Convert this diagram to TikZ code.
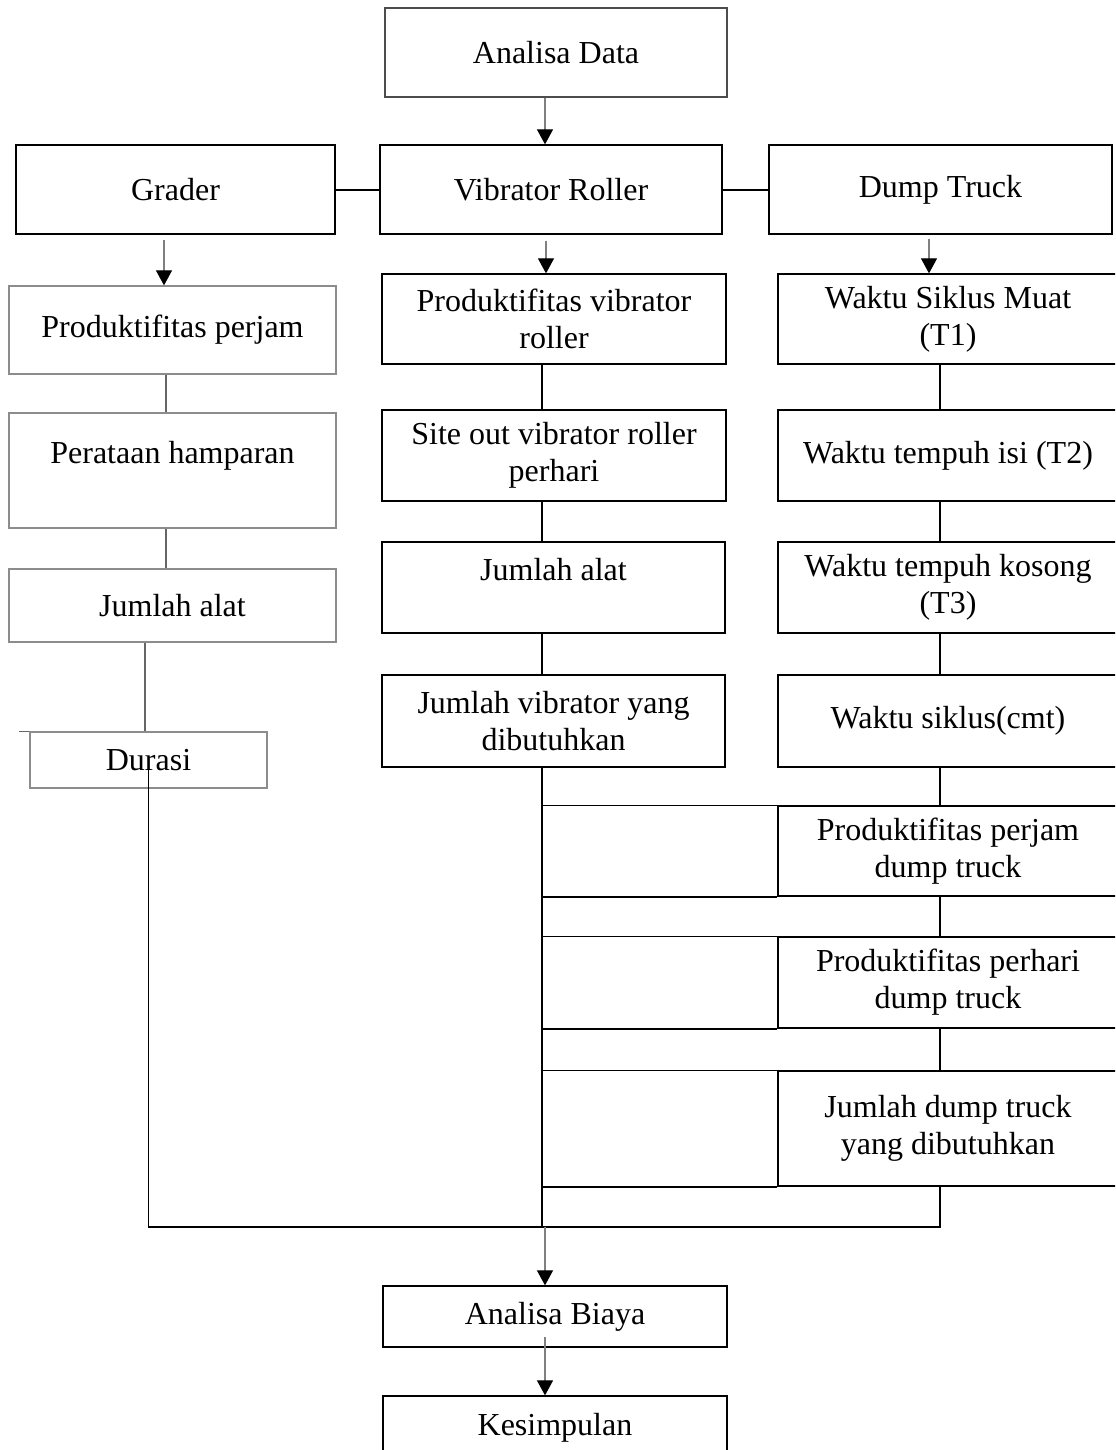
\documentclass[tikz,border=0pt]{standalone}
\usepackage{fontspec}
\setmainfont{Liberation Serif}
\usetikzlibrary{arrows.meta}

\begin{document}
\begin{tikzpicture}[x=0.5pt,y=-0.5pt,
    kotak/.style={shape=rectangle,draw=black,line width=0.65pt,align=center,inner sep=0pt,
                  font=\fontsize{16}{18.5}\selectfont},
    kotakabu/.style={kotak,draw=black!45},
    panah/.style={draw=black!50,line width=0.6pt,-{Triangle[width=8pt,length=7.5pt,color=black]}},
    garis/.style={draw=black,line width=0.85pt},
    garisabu/.style={draw=black!60,line width=0.6pt}]
    \useasboundingbox (0,0) rectangle (1115,1450);
    \clip (0,0) rectangle (1115,1450);

    \node[kotak,draw=black!70,minimum width=171pt,minimum height=44.5pt] (AD) at (556,52.5) {Analisa Data};
    \node[kotak,minimum width=159.5pt,minimum height=44.5pt] (GR) at (175.5,189.5) {Grader};
    \node[kotak,minimum width=171pt,minimum height=44.5pt] (VR) at (551,189.5) {Vibrator Roller};
    \node[kotak,minimum width=171.5pt,minimum height=44.5pt] (DT) at (940.5,189.5) {Dump Truck};

    \node[kotakabu,minimum width=163.5pt,minimum height=44pt] (PP) at (172.5,330) {Produktifitas perjam};
    \node[kotakabu,minimum width=163.5pt,minimum height=57.5pt] (PH) at (172.5,470.5) {Perataan hamparan\\\mbox{}};
    \node[kotakabu,minimum width=163.5pt,minimum height=36.5pt] (JA) at (172.5,605.5) {Jumlah alat};
    \node[kotakabu,minimum width=118.5pt,minimum height=28pt] (DU) at (148.5,760) {Durasi};

    \node[kotak,minimum width=172pt,minimum height=45pt] (PV) at (554,319) {Produktifitas vibrator\\roller};
    \node[kotak,minimum width=172pt,minimum height=45.5pt] (SO) at (554,455.5) {Site out vibrator roller\\perhari};
    \node[kotak,minimum width=171.5pt,minimum height=45.5pt] (JB) at (553.5,587.5) {Jumlah alat\\\mbox{}};
    \node[kotak,minimum width=171.5pt,minimum height=46pt] (JV) at (553.5,721) {Jumlah vibrator yang\\dibutuhkan};

    \node[kotak,minimum width=170pt,minimum height=45pt] (WSM) at (948,319) {Waktu Siklus Muat\\(T1)};
    \node[kotak,minimum width=170pt,minimum height=45.5pt] (WTI) at (948,455.5) {Waktu tempuh isi (T2)};
    \node[kotak,minimum width=170pt,minimum height=45.5pt] (WTK) at (948,587.5) {Waktu tempuh kosong\\(T3)};
    \node[kotak,minimum width=170pt,minimum height=46pt] (WSC) at (948,721) {Waktu siklus(cmt)};
    \node[kotak,minimum width=170pt,minimum height=45pt] (PJD) at (948,851) {Produktifitas perjam\\dump truck};
    \node[kotak,minimum width=170pt,minimum height=45.5pt] (PHD) at (948,982.5) {Produktifitas perhari\\dump truck};
    \node[kotak,minimum width=170pt,minimum height=57.5pt] (JDT) at (948,1128.5) {Jumlah dump truck\\yang dibutuhkan};

    \node[kotak,minimum width=172pt,minimum height=30.5pt] (AB) at (555,1316.5) {Analisa Biaya};
    \node[kotak,minimum width=172pt,minimum height=32pt] (KS) at (555,1428) {Kesimpulan};

    \coordinate (xa) at (545,0);
    \coordinate (xg) at (164,0);
    \coordinate (xv) at (546,0);
    \coordinate (xd) at (929,0);
    \coordinate (gx) at (166,0);
    \coordinate (jx) at (145,0);
    \coordinate (vx) at (542,0);
    \coordinate (dx) at (940,0);
    \coordinate (bawah) at (0,1227);

    \draw[panah] (AD.south -| xa) -- (VR.north -| xa);
    \draw[garis,line width=1pt] (GR) -- (VR);
    \draw[garis,line width=1pt] (VR) -- (DT);

    \draw[panah] ([yshift=-2.5pt]GR.south -| xg) -- (PP.north -| xg);
    \draw[panah] ([yshift=-3pt]VR.south -| xv) -- (PV.north -| xv);
    \draw[panah] ([yshift=-2pt]DT.south -| xd) -- (WSM.north -| xd);

    \draw[garisabu] (PP.south -| gx) -- (PH.north -| gx);
    \draw[garisabu] (PH.south -| gx) -- (JA.north -| gx);
    \draw[garisabu] (JA.south -| jx) -- (DU.north -| jx);
    \draw[garisabu] (DU.north west) -- ++(-10,0);

    \draw[garis] (PV.south -| vx) -- (SO.north -| vx);
    \draw[garis] (SO.south -| vx) -- (JB.north -| vx);
    \draw[garis] (JB.south -| vx) -- (JV.north -| vx);
    \draw[garis] (JV.south -| vx) -- (bawah -| vx);

    \draw[garis] (WSM.south -| dx) -- (WTI.north -| dx);
    \draw[garis] (WTI.south -| dx) -- (WTK.north -| dx);
    \draw[garis] (WTK.south -| dx) -- (WSC.north -| dx);
    \draw[garis] (WSC.south -| dx) -- (PJD.north -| dx);
    \draw[garis] (PJD.south -| dx) -- (PHD.north -| dx);
    \draw[garis] (PHD.south -| dx) -- (JDT.north -| dx);

    \draw[garis] (PJD.north west -| vx) -- (PJD.north west);
    \draw[garis] (PJD.south west -| vx) -- (PJD.south west);
    \draw[garis] (PHD.north west -| vx) -- (PHD.north west);
    \draw[garis] (PHD.south west -| vx) -- (PHD.south west);
    \draw[garis] (JDT.north west -| vx) -- (JDT.north west);
    \draw[garis] (JDT.south west -| vx) -- (JDT.south west);

    \draw[garis] ([yshift=-5pt]DU.center) -- (DU.center |- bawah) -- (bawah -| dx) -- (JDT.south -| dx);

    \draw[panah] (bawah -| xa) -- (AB.north -| xa);
    \draw[panah] ([yshift=5.5pt]AB.south -| xa) -- (KS.north -| xa);
\end{tikzpicture}
\end{document}
